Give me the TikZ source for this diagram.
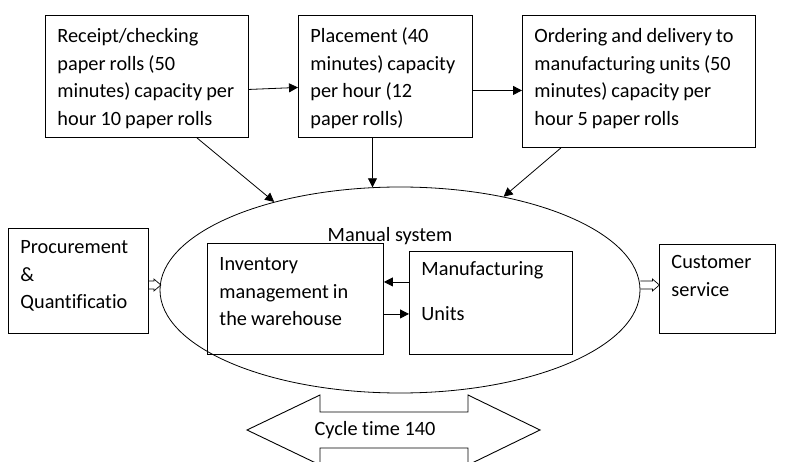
\documentclass[tikz,border=0pt]{standalone}
\usepackage{fontspec}
\setmainfont{Carlito}[Ligatures=NoCommon]
\usetikzlibrary{arrows.meta,shapes.geometric}
\newcommand{\boxfont}{\fontsize{20.3}{27.7}\selectfont}
\newcommand{\tightsp}{\spaceskip=.2em\relax}
\tikzset{box/.style={draw, line width=.9pt, anchor=north west, align=left, inner xsep=12pt, inner ysep=0pt, font=\boxfont, execute at begin node=\tightsp}, arr/.style={-{Triangle[length=9pt,width=9pt]}, line width=.8pt}, hollow/.style={line width=.7pt, line join=miter}, lab/.style={font=\boxfont}}

\begin{document}
\begin{tikzpicture}[x=1pt,y=-1pt]
\useasboundingbox (0,0) rectangle (785,462); \clip (0,0) rectangle (785,462);
% top row
\node[box, text width=179pt, text height=27pt, text depth=95pt] (rcpt) at (45,15) {Receipt/checking\\paper rolls (50\\minutes) capacity per\\hour 10 paper rolls};
\node[box, text width=150pt, text height=27pt, text depth=95pt] (place) at (298,15) {Placement (40\\minutes) capacity\\per hour (12\\paper rolls)};
\node[box, text width=209pt, text height=27pt, text depth=105pt] (order) at (522,15) {Ordering and delivery to\\manufacturing units (50\\minutes) capacity per\\hour 5 paper rolls};
% manual system
\node[ellipse, draw, line width=.8pt, minimum width=480pt, minimum height=206pt, inner sep=0pt] (sys) at (400,290) {};
\node[lab, anchor=base] (ttl) at (390,242) {Manual system};
\node[box, text width=152pt, text height=27pt, text depth=84pt] (inv) at (207,243) {Inventory\\management in\\the warehouse};
\node[box, text width=139pt, text height=24pt, text depth=79pt] (manu) at (409,251) {Manufacturing\\[17pt]Units};
% sides
\node[box, text width=116pt, text height=25pt, text depth=80pt] (proc) at (8,228) {Procurement\\\&\\Quantificatio};
\node[box, text width=92pt, text height=24pt, text depth=65pt] (cust) at (659,244) {Customer\\service};
% connectors
\draw[arr] ([yshift=-13pt]rcpt.east) -- ([yshift=-11pt]place.west); \draw[arr] ([yshift=-14pt]place.east) -- ([yshift=-14pt]place.east -| order.west);
\draw[arr] ([xshift=50pt]rcpt.south) -- (sys.145); \draw[arr] ([xshift=-13pt]place.south) -- (sys.105); \draw[arr] ([xshift=-78pt]order.south) -- (sys.42);
\draw[arr] ([yshift=21pt]manu.west) -- ([yshift=21pt]manu.west -| inv.east); \draw[arr] ([yshift=-11pt]manu.west -| inv.east) -- ([yshift=-11pt]manu.west);
% hollow arrows
\draw[hollow] (proc.east |- sys.west) ++(0,-9) -- ++(5,0) -- ++(0,-2) -- ++(7,6) -- ++(-7,6) -- ++(0,-2) -- ++(-5,0);
\draw[hollow] (sys.east) ++(0,-9) -- ++(12,0) -- ++(0,-2) -- ++(7,6) -- ++(-7,6) -- ++(0,-2) -- ++(-12,0);
% cycle time
\draw[line width=.9pt] (247,430) -- (320,395) -- (320,412) -- (468,412) -- (468,395) -- (540,430) -- (468,465) -- (468,448) -- (320,448) -- (320,465) -- cycle;
\node[lab] (cyc) at (375,430) {Cycle time 140};
\end{tikzpicture}
\end{document}
